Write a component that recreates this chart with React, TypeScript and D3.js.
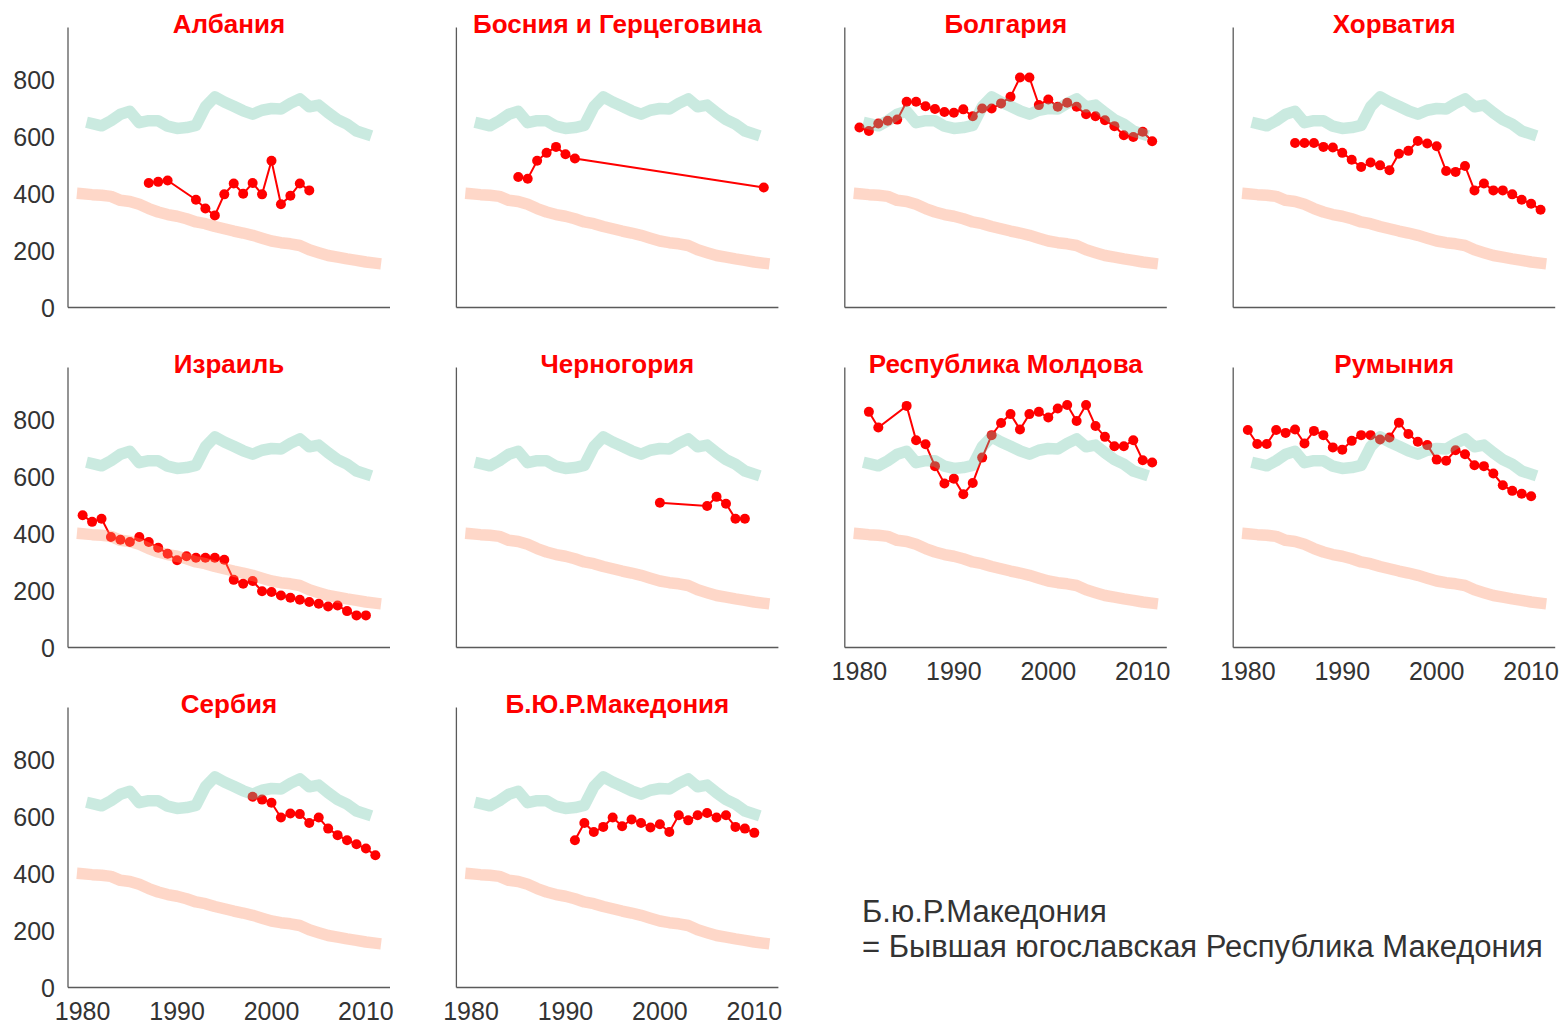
import React from "react";
import * as d3 from "d3";

// ---- reference lines (shared in every panel) ----
const greenYears = d3.range(1981, 2011);
const greenValues = [647,639,657,680,690,650,657,657,638,630,633,641,706,741,723,708,692,680,694,700,698,718,734,706,712,685,661,645,621,610];
const orangeYears = d3.range(1980, 2012);
const orangeValues = [400,397,395,391,377,373,363,348,336,327,321,312,301,295,285,277,269,262,254,244,234,228,224,218,203,193,183,177,171,166,160,156];

// ---- country series ----
const albaniaYears = [1987,1988,1989,1992,1993,1994,1995,1996,1997,1998,1999,2000,2001,2002,2003,2004];
const albaniaValues = [438,442,447,379,348,324,398,436,400,438,398,516,363,393,436,412];
const bosniaYears = [1985,1986,1987,1988,1989,1990,1991,2011];
const bosniaValues = [459,453,516,544,565,539,524,422];
const bulgariaYears = d3.range(1980, 2012);
const bulgariaValues = [633,621,647,657,661,724,724,708,698,688,685,697,673,700,700,718,741,809,809,712,732,706,720,706,680,673,659,638,606,600,618,585];
const croatiaYears = d3.range(1985, 2012);
const croatiaValues = [579,579,579,565,563,544,520,494,510,500,483,541,551,586,577,567,480,477,498,412,436,412,412,398,379,365,344];
const israelYears = d3.range(1980, 2011);
const israelValues = [465,442,453,389,379,371,389,371,351,330,307,321,316,316,316,309,238,224,234,198,195,183,175,168,160,154,144,148,128,113,113];
const montenegroYears = [2000,2005,2006,2007,2008,2009];
const montenegroValues = [509,498,530,506,453,453];
const moldovaYears = [1981,1982,...d3.range(1985, 2012)];
const moldovaValues = [829,774,850,729,715,638,577,594,539,579,668,747,790,821,767,821,829,809,841,853,797,853,779,741,708,708,729,659,651];
const romaniaYears = d3.range(1980, 2011);
const romaniaValues = [765,716,716,765,755,767,718,762,747,704,696,727,747,747,732,739,791,751,724,712,661,657,694,680,641,638,612,571,551,541,532];
const serbiaYears = d3.range(1998, 2012);
const serbiaValues = [671,661,650,598,612,610,579,598,559,536,518,504,489,465];
const macedoniaYears = d3.range(1991, 2011);
const macedoniaValues = [518,579,547,565,598,567,591,579,563,574,547,606,588,606,614,598,606,565,559,544];

const titles = ["Албания","Босния и Герцеговина","Болгария","Хорватия","Израиль","Черногория","Республика Молдова","Румыния","Сербия","Б.Ю.Р.Македония"];
const seriesYears = [albaniaYears,bosniaYears,bulgariaYears,croatiaYears,israelYears,montenegroYears,moldovaYears,romaniaYears,serbiaYears,macedoniaYears];
const seriesValues = [albaniaValues,bosniaValues,bulgariaValues,croatiaValues,israelValues,montenegroValues,moldovaValues,romaniaValues,serbiaValues,macedoniaValues];

const xTicks = [1980, 1990, 2000, 2010];
const yTicks = [0, 200, 400, 600, 800];
const noteLines = ["Б.ю.Р.Македония", "= Бывшая югославская Республика Македония"];

const W = 1563, H = 1025;
const PW = 322, PH = 280;
const FONT = "'Liberation Sans', Arial, sans-serif";

function Panel({ idx }: { idx: number }) {
  const col = idx % 4, row = Math.floor(idx / 4);
  const left = 68 + col * 388.4;
  const bottom = 307.5 + row * 340;
  const top = bottom - PH;
  const x = d3.scaleLinear().domain([1978.45, 2012.55]).range([left, left + PW]);
  const y = d3.scaleLinear().domain([0, 985]).range([bottom, top]);
  const line = d3.line<[number, number]>().x(d => x(d[0])).y(d => y(d[1]));
  const pts: [number, number][] = seriesYears[idx].map((yr, i) => [yr, seriesValues[idx][i]]);
  const green: [number, number][] = greenYears.map((yr, i) => [yr, greenValues[i]]);
  const orange: [number, number][] = orangeYears.map((yr, i) => [yr, orangeValues[i]]);
  const showY = col === 0;
  const showX = idx >= 6;
  return (
    <g>
      <path d={line(pts) || ""} fill="none" stroke="#ff0000" strokeWidth={2} />
      {pts.map((p, i) => (
        <circle key={i} cx={x(p[0])} cy={y(p[1])} r={5} fill="#ff0000" />
      ))}
      <path d={line(green) || ""} fill="none" stroke="#66c2a5" strokeOpacity={0.35} strokeWidth={11.5} strokeLinecap="square" strokeLinejoin="round" />
      <path d={line(orange) || ""} fill="none" stroke="#fc8d62" strokeOpacity={0.35} strokeWidth={11.5} strokeLinecap="square" strokeLinejoin="round" />
      <line x1={left} x2={left} y1={top} y2={bottom} stroke="#5a5a5a" strokeWidth={1.3} />
      <line x1={left} x2={left + PW} y1={bottom} y2={bottom} stroke="#5a5a5a" strokeWidth={1.3} />
      {showY && yTicks.map(t => (
        <text key={t} x={left - 13} y={y(t)} dy="0.36em" textAnchor="end" fontSize={25} fill="#333" fontFamily={FONT}>{t}</text>
      ))}
      {showX && xTicks.map(t => (
        <text key={t} x={x(t)} y={bottom + 32} textAnchor="middle" fontSize={25} fill="#333" fontFamily={FONT}>{t}</text>
      ))}
      <text x={left + PW / 2} y={top + 5} textAnchor="middle" fontSize={26} fontWeight="bold" fill="#ff0000" fontFamily={FONT}>{titles[idx]}</text>
    </g>
  );
}

export default function App() {
  return (
    <svg width={W} height={H} style={{ position: "absolute", left: 0, top: 0, background: "#fff" }}>
      <rect x={0} y={0} width={W} height={H} fill="#fff" />
      {titles.map((_, i) => <Panel key={i} idx={i} />)}
      {noteLines.map((s, i) => (
        <text key={i} x={862} y={922 + i * 35} fontSize={31} fill="#333" fontFamily={FONT}>{s}</text>
      ))}
    </svg>
  );
}
